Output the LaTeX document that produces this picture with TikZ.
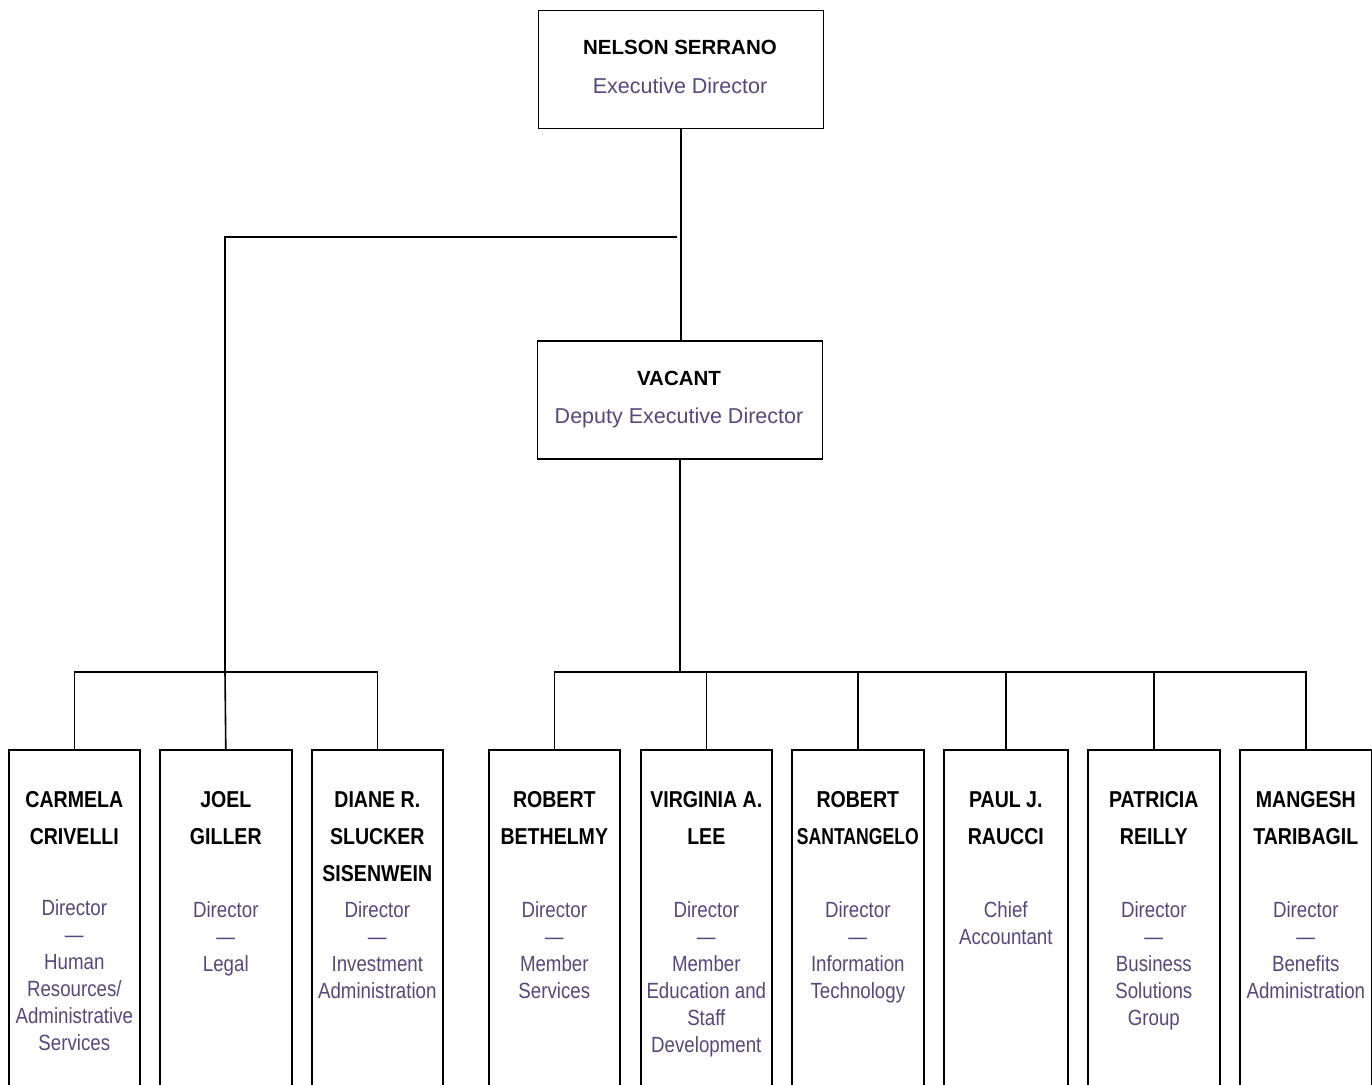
\documentclass[tikz,border=0pt]{standalone}
\usepackage{fontspec}
\setmainfont{Liberation Sans}
\newfontfamily\condfont[FakeStretch=0.85]{Liberation Sans}
\definecolor{titlepurple}{RGB}{86,72,126}
\begin{document}
\begin{tikzpicture}[x=1pt,y=-1pt,line width=1.6pt,
  box/.style={draw=black,rectangle,inner sep=0pt,anchor=north west},
  topname/.style={anchor=base,inner sep=0pt,font=\fontsize{20.5}{24}\selectfont\bfseries},
  toptitle/.style={anchor=base,inner sep=0pt,text=titlepurple,font=\fontsize{21.5}{26}\selectfont},
  pname/.style={anchor=north,inner sep=0pt,align=center,font=\condfont\fontsize{23}{37}\selectfont\bfseries},
  ptitle/.style={anchor=north,inner sep=0pt,align=center,text=titlepurple,font=\condfont\fontsize{22}{27}\selectfont}]
\clip (0,0) rectangle (1372,1084);
\fill[white] (0,0) rectangle (1372,1084);
% top boxes
\node[box,minimum width=285pt,minimum height=118pt] (top) at (537.5,9.5) {};
\node[box,minimum width=285pt,minimum height=118pt] (vac) at (536.5,340) {};
\node[topname] (n0) at (680,54) {NELSON SERRANO};
\node[toptitle] (t0) at (680,93) {Executive Director};
\node[topname] (n1) at (679,385) {VACANT};
\node[toptitle] (t1) at (679,423) {Deputy Executive Director};
% bottom boxes
\node[box,minimum width=131pt,minimum height=400pt] (b1) at (8,749) {};
\node[box,minimum width=132pt,minimum height=400pt] (b2) at (159,749) {};
\node[box,minimum width=131pt,minimum height=400pt] (b3) at (311,749) {};
\node[box,minimum width=131pt,minimum height=400pt] (b4) at (488,749) {};
\node[box,minimum width=131pt,minimum height=400pt] (b5) at (640,749) {};
\node[box,minimum width=132pt,minimum height=400pt] (b6) at (791,749) {};
\node[box,minimum width=124pt,minimum height=400pt] (b7) at (943,749) {};
\node[box,minimum width=132pt,minimum height=400pt] (b8) at (1087,749) {};
\node[box,minimum width=132pt,minimum height=400pt] (b9) at (1239,749) {};
% names
\node[pname] (p1) at (b1.north |- 0,790.5) {CARMELA\\CRIVELLI};
\node[pname] (p2) at (b2.north |- 0,790.5) {JOEL\\GILLER};
\node[pname] (p3) at (b3.north |- 0,790.5) {DIANE R.\\SLUCKER\\SISENWEIN};
\node[pname] (p4) at (b4.north |- 0,790.5) {ROBERT\\BETHELMY};
\node[pname] (p5) at (b5.north |- 0,790.5) {VIRGINIA A.\\LEE};
\node[pname] (p6) at (b6.north |- 0,790.5) {ROBERT\\\scalebox{0.9}[1]{SANTANGELO}};
\node[pname] (p7) at (b7.north |- 0,790.5) {PAUL J.\\RAUCCI};
\node[pname] (p8) at (b8.north |- 0,790.5) {PATRICIA\\REILLY};
\node[pname] (p9) at (b9.north |- 0,790.5) {MANGESH\\TARIBAGIL};
% titles
\node[ptitle] (r1) at (b1.north |- 0,899) {Director\\—\\Human\\Resources/\\Administrative\\Services};
\node[ptitle] (r2) at (b2.north |- 0,901) {Director\\—\\Legal};
\node[ptitle] (r3) at (b3.north |- 0,901) {Director\\—\\Investment\\Administration};
\node[ptitle] (r4) at (b4.north |- 0,901) {Director\\—\\Member\\Services};
\node[ptitle] (r5) at (b5.north |- 0,901) {Director\\—\\Member\\Education and\\Staff\\Development};
\node[ptitle] (r6) at (b6.north |- 0,901) {Director\\—\\Information\\Technology};
\node[ptitle] (r7) at (b7.north |- 0,901) {Chief\\Accountant};
\node[ptitle] (r8) at (b8.north |- 0,901) {Director\\—\\Business\\Solutions\\Group};
\node[ptitle] (r9) at (b9.north |- 0,901) {Director\\—\\Benefits\\Administration};
% connectors
\draw (top.south) -- (top.south |- vac.north);
\coordinate (lend) at (677,237);
\coordinate (lcorner) at (225,237);
\coordinate (lbus) at (225,672);
\draw (lend) -- (lcorner) -- (lbus);
\draw (b1.north) -- (b1.north |- lbus) -- (b3.north |- lbus) -- (b3.north);
\draw (lbus) -- (b2.north);
\coordinate (rbus) at (680,672);
\draw (vac.south -| rbus) -- (rbus);
\draw (b4.north) -- (b4.north |- rbus) -- (b9.north |- rbus) -- (b9.north);
\foreach \b in {b5,b6,b7,b8} \draw (\b.north |- rbus) -- (\b.north);
\end{tikzpicture}
\end{document}
